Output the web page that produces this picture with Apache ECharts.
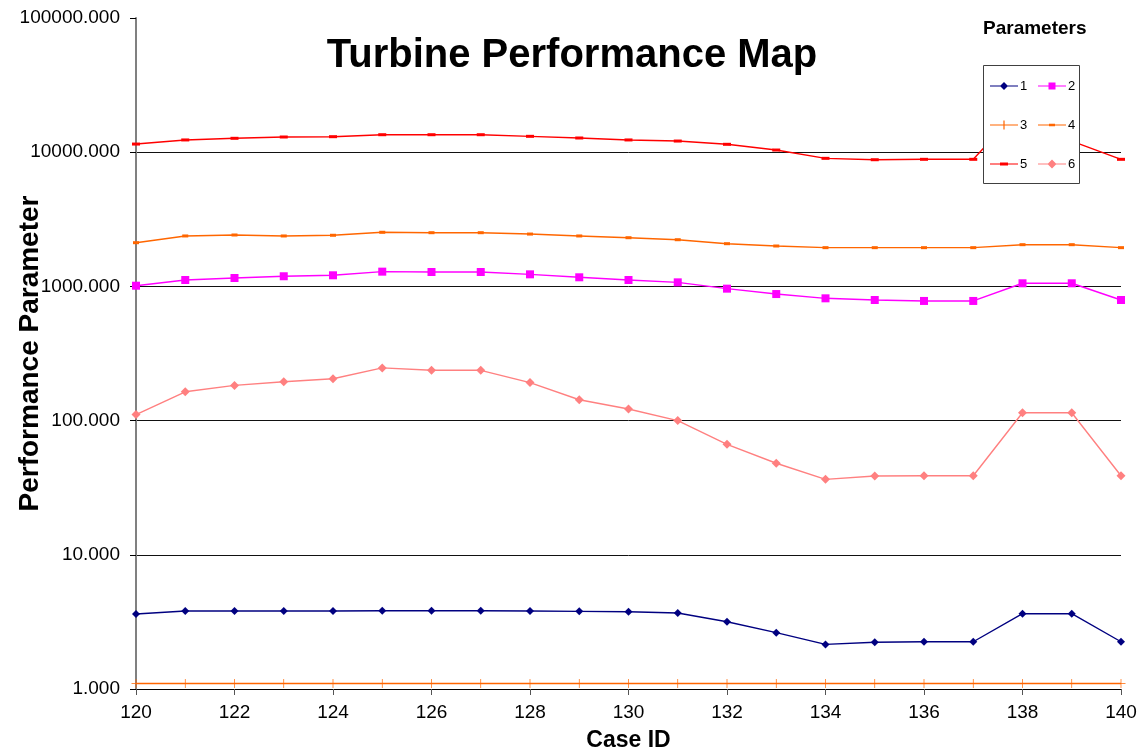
<!DOCTYPE html>
<html>
<head>
<meta charset="utf-8">
<script src="https://cdn.jsdelivr.net/npm/echarts@6/dist/echarts.min.js"></script>
<style>
html,body{margin:0;padding:0;background:#fff;}
#chart{width:1144px;height:751px;}
</style>
</head>
<body>
<div id="chart"></div>
<script>
// ---- data ----
const caseIds = [120,121,122,123,124,125,126,127,128,129,130,131,132,133,134,135,136,137,138,139,140];
const seriesNames = ['1','2','3','4','5','6'];
const param1 = [3.62,3.81,3.81,3.81,3.81,3.83,3.83,3.83,3.81,3.79,3.76,3.68,3.17,2.63,2.15,2.23,2.25,2.25,3.64,3.64,2.25];
const param2 = [1012,1116,1155,1190,1210,1288,1280,1280,1230,1169,1116,1072,962,877,815,792,779,779,1055,1055,792];
const param3 = [1.10,1.10,1.10,1.10,1.10,1.10,1.10,1.10,1.10,1.10,1.10,1.10,1.10,1.10,1.10,1.10,1.10,1.10,1.10,1.10,1.10];
const param4 = [2117,2376,2416,2376,2404,2531,2513,2513,2455,2376,2306,2228,2081,2000,1944,1944,1944,1944,2046,2046,1944];
const param5 = [11500,12340,12690,12980,13050,13500,13500,13500,13130,12760,12340,12110,11450,10380,9000,8790,8850,8850,22000,12100,8850];
const param6 = [111,164,183,195,205,247,237,237,192,143,122,100,66.6,48.1,36.5,38.7,38.8,38.8,114.5,114.5,38.8];
const yTicks = [1,10,100,1000,10000,100000];

const allValues = [param1,param2,param3,param4,param5,param6];
const colors = ['#000080','#FF00FF','#FF6600','#FF6600','#FF0000','#FF8080'];
const plusPath = 'path://M8.3,0H9.7V8.3H18V9.7H9.7V18H8.3V9.7H0V8.3H8.3Z';
const symbols = ['diamond','rect',plusPath,'rect','rect','diamond'];
const symbolSizes = [8,8,9,[6,3],[8,3],9];

// legend icons: line + marker drawn in a 28x14 box
const boxSpecks = 'M0,0H0.01V0.01H0Z M27.99,13.99H28V14H27.99Z ';
const iconLine = 'M0,6.4H28V7.6H0Z ';
const iconMarkers = [
  'M14,3L18,7L14,11L10,7Z',
  'M10.5,3.5H17.5V10.5H10.5Z',
  'M13.4,2.5H14.6V11.5H13.4Z',
  'M11,5.7H17V8.3H11Z',
  'M10,5.5H18V8.5H10Z',
  'M14,2.5L18.5,7L14,11.5L9.5,7Z'
];
const legendIcon = i => 'path://' + boxSpecks + iconLine + iconMarkers[i];

const chart = echarts.init(document.getElementById('chart'), null, {renderer:'canvas'});
const FONT = 'Liberation Sans, Arial, sans-serif';

const series = seriesNames.map((name,i)=>({
  name: name,
  type: 'line',
  data: caseIds.map((x,j)=>[x, allValues[i][j]]),
  symbol: symbols[i],
  symbolSize: symbolSizes[i],
  showAllSymbol: true,
  z: 2 + i,
  lineStyle: {color: colors[i], width: 1.4},
  itemStyle: {color: colors[i]},
  emphasis: {disabled: true},
  animation: false
}));

const legendCommon = {
  orient: 'vertical',
  top: 79,
  padding: 0,
  itemGap: 25,
  itemWidth: 28, itemHeight: 14,
  selectedMode: false,
  textStyle: {fontFamily: FONT, fontSize: 13, color: '#000', padding: [0,0,0,-3]},
  z: 101
};

chart.setOption({
  backgroundColor: '#fff',
  animation: false,
  title: [{
    text: 'Turbine Performance Map',
    left: 'center',
    top: 31,
    textStyle: {fontFamily: FONT, fontWeight: 'bold', fontSize: 40, color: '#000'}
  },{
    text: 'Parameters',
    left: 978,
    top: 14,
    textStyle: {fontFamily: FONT, fontWeight: 'bold', fontSize: 19, color: '#000'}
  }],
  graphic: [{
    type: 'rect',
    left: 983, top: 65,
    shape: {width: 96, height: 118},
    style: {fill: '#fff', stroke: '#404040', lineWidth: 1},
    z: 100
  }],
  legend: [
    Object.assign({}, legendCommon, {left: 990,
      data: [0,2,4].map(i => ({name: seriesNames[i], icon: legendIcon(i)}))}),
    Object.assign({}, legendCommon, {left: 1038,
      data: [1,3,5].map(i => ({name: seriesNames[i], icon: legendIcon(i)}))})
  ],
  grid: {left: 136, right: 23, top: 18, bottom: 62, containLabel: false, outerBoundsMode: 'none'},
  xAxis: {
    type: 'value',
    min: 120, max: 140, interval: 2,
    name: 'Case ID',
    nameLocation: 'middle',
    nameGap: 40,
    nameMoveOverlap: false,
    nameTextStyle: {fontFamily: FONT, fontWeight: 'bold', fontSize: 23, color: '#000'},
    axisLine: {show: true, onZero: false, lineStyle: {color: '#000', width: 1}},
    axisTick: {show: true, length: 6, lineStyle: {color: '#555'}},
    axisLabel: {fontFamily: FONT, fontSize: 19, color: '#000', margin: 14},
    splitLine: {show: false}
  },
  yAxis: {
    type: 'log',
    logBase: 10,
    min: yTicks[0], max: yTicks[yTicks.length-1],
    name: 'Performance Parameter',
    nameLocation: 'middle',
    nameGap: 92,
    nameMoveOverlap: false,
    nameTextStyle: {fontFamily: FONT, fontWeight: 'bold', fontSize: 28, color: '#000'},
    axisLine: {show: true, lineStyle: {color: '#808080', width: 2}},
    axisTick: {show: true, length: 6, lineStyle: {color: '#000'}},
    axisLabel: {fontFamily: FONT, fontSize: 19, color: '#000', margin: 16,
      formatter: v => Number(v).toFixed(3)},
    splitLine: {show: true, showMinLine: false, showMaxLine: false, lineStyle: {color: '#111', width: 1}}
  },
  series: series
});
</script>
</body>
</html>
